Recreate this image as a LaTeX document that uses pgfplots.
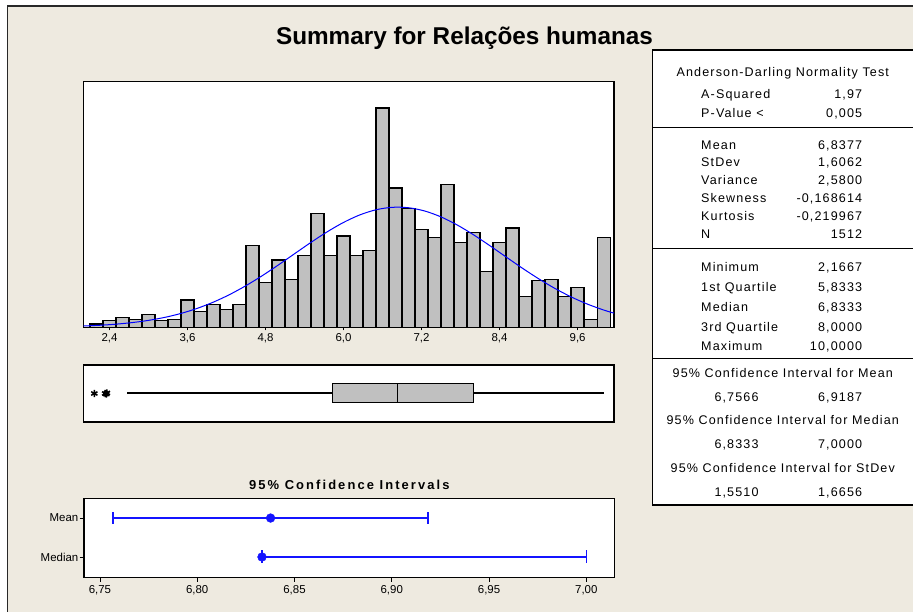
\documentclass[border=0pt]{standalone}
\usepackage{fontspec}
\setmainfont{Liberation Sans}
\usepackage{pgfplots}
\pgfplotsset{compat=1.18}
\usepgfplotslibrary{statistics}
\newfontfamily\tabfont[LetterSpace=9]{Liberation Sans}
\newfontfamily\titfont[LetterSpace=16]{Liberation Sans}
\definecolor{bgbeige}{RGB}{238,234,224}
\definecolor{bargray}{RGB}{192,192,192}
\definecolor{ciblue}{RGB}{20,20,255}
\definecolor{framegray}{RGB}{40,40,40}
\newcommand{\tabf}{\tabfont\fontsize{12.6}{14}\selectfont}
\newcommand{\trow}[3]{%
  \node[anchor=base west,inner sep=0pt,font=\tabf] at (701bp,#1bp) {#2};%
  \node[anchor=base east,inner sep=0pt,font=\tabf] at (862.3bp,#1bp) {#3};}
\newcommand{\crow}[3]{%
  \node[anchor=base west,inner sep=0pt,font=\tabf] at (714.3bp,#1bp) {#2};%
  \node[anchor=base east,inner sep=0pt,font=\tabf] at (862.3bp,#1bp) {#3};}
\newcommand{\hrow}[2]{%
  \node[anchor=base,inner sep=0pt,font=\tabf] at (782.8bp,#1bp) {#2};}

\begin{document}
\begin{tikzpicture}
\useasboundingbox (0,0) rectangle (913bp,612bp);
\fill[white] (0,0) rectangle (913bp,612bp);
\draw[line width=1.5bp, draw=framegray, fill=bgbeige] (7.3bp,-20bp) rectangle (940bp,606bp);

\node[anchor=base, inner sep=0pt, font=\bfseries\fontsize{24.4}{28}\selectfont] at (464.5bp,567.7bp) {Summary for Relações humanas};

% Histogram
\begin{axis}[
  at={(83.5bp,284.7bp)}, anchor=south west, scale only axis,
  width=530.5bp, height=245.6bp,
  xmin=2.0, xmax=10.16, ymin=0, ymax=153.5,
  axis line style={line width=1.2bp, black},
  axis background/.style={fill=white},
  ytick=\empty,
  xtick={2.4,3.6,4.8,6.0,7.2,8.4,9.6},
  xticklabels={{2,4},{3,6},{4,8},{6,0},{7,2},{8,4},{9,6}},
  tick align=outside, major tick length=3bp, xtick pos=bottom,
  tick style={black, line width=0.8bp},
  tick label style={font=\fontsize{11.5}{13}\selectfont},
]
\addplot[ybar, bar width=0.2, fill=bargray, draw=black, line width=1.2bp] coordinates {
(2.2,2) (2.4,4) (2.6,6) (2.8,5) (3.0,8) (3.2,4) (3.4,5) (3.6,17) (3.8,10) (4.0,14)
(4.2,11) (4.4,14) (4.6,51) (4.8,28) (5.0,42) (5.2,30) (5.4,45) (5.6,71) (5.8,45) (6.0,57)
(6.2,45) (6.4,48) (6.6,137) (6.8,87) (7.0,74) (7.2,61) (7.4,56) (7.6,89) (7.8,53) (8.0,59)
(8.2,35) (8.4,53) (8.6,62) (8.8,19) (9.0,29) (9.2,30) (9.4,19) (9.6,25) (9.8,5) (10.0,56)
};
\addplot[blue, line width=1bp, smooth] coordinates {
(2.0,0.81) (2.25,1.27) (2.5,1.96) (2.75,2.95) (3.0,4.33) (3.25,6.20) (3.5,8.67) (3.75,11.84)
(4.0,15.77) (4.25,20.51) (4.5,26.05) (4.75,32.27) (5.0,39.03) (5.25,46.08) (5.5,53.10)
(5.75,59.71) (6.0,65.55) (6.25,70.24) (6.5,73.46) (6.75,74.99) (7.0,74.72) (7.25,72.67)
(7.5,68.98) (7.75,63.91) (8.0,57.80) (8.25,51.02) (8.5,43.96) (8.75,36.97) (9.0,30.35)
(9.25,24.32) (9.5,19.01) (9.75,14.51) (10.0,10.81) (10.16,8.84)
};
\end{axis}

% Boxplot
\begin{axis}[
  at={(83.5bp,190bp)}, anchor=south west, scale only axis,
  width=530.5bp, height=57bp,
  xmin=2.0, xmax=10.16, ymin=0, ymax=2,
  axis line style={line width=1.2bp, black},
  axis background/.style={fill=white},
  xtick=\empty, ytick=\empty,
]
\addplot[boxplot prepared={lower whisker=2.6667, lower quartile=5.8333, median=6.8333,
  upper quartile=8.0, upper whisker=10.0, draw position=1.017, box extend=0.68,
  whisker extend=0, draw direction=x},
  fill=bargray, draw=black, line width=1.3bp] coordinates {};
\addplot[only marks, mark=asterisk, mark size=3.6bp, line width=1.5bp, black] coordinates {(2.1667,1) (2.3333,1) (2.36,1.02) (2.35,0.98)};
\end{axis}

% CI title
\node[anchor=base, inner sep=0pt, font=\titfont\bfseries\fontsize{13}{15}\selectfont] at (349.3bp,122.5bp) {95\% Confidence Intervals};

% CI plot
\begin{axis}[
  at={(84bp,34.7bp)}, anchor=south west, scale only axis,
  width=530.7bp, height=79bp,
  xmin=6.7418, xmax=7.0146, ymin=0.5, ymax=2.5,
  axis line style={line width=1.2bp, black},
  axis background/.style={fill=white},
  xtick={6.75,6.80,6.85,6.90,6.95,7.00},
  xticklabels={{6,75},{6,80},{6,85},{6,90},{6,95},{7,00}},
  ytick={1,2}, yticklabels={Median,Mean},
  tick align=outside, major tick length=4.5bp, xtick pos=bottom, ytick pos=left,
  tick style={black, line width=0.8bp},
  tick label style={font=\fontsize{11.5}{13}\selectfont},
  yticklabel style={inner xsep=1bp},
]
\addplot[ciblue, line width=1.5bp, mark=|, mark size=6bp] coordinates {(6.7566,2) (6.9187,2)};
\addplot[ciblue, line width=1.5bp, mark=|, mark size=6.5bp] coordinates {(6.8333,1.014) (7.0,1.014)};
\addplot[ciblue, only marks, mark=*, mark size=4.4bp] coordinates {(6.8377,2) (6.8333,1.014)};
\end{axis}

% Table
\draw[line width=1.3bp, fill=white] (652.7bp,107bp) rectangle (930bp,562bp);
\draw[line width=1.3bp] (652.7bp,484.7bp) -- (930bp,484.7bp);
\draw[line width=1.3bp] (652.7bp,363.5bp) -- (930bp,363.5bp);
\draw[line width=1.3bp] (652.7bp,253.5bp) -- (930bp,253.5bp);
\hrow{535.9}{Anderson-Darling Normality Test}
\trow{513.3}{A-Squared}{1,97}
\trow{494.3}{P-Value <}{0,005}
\trow{462.6}{Mean}{6,8377}
\trow{445.0}{StDev}{1,6062}
\trow{427.2}{Variance}{2,5800}
\trow{409.2}{Skewness}{-0,168614}
\trow{391.6}{Kurtosis}{-0,219967}
\trow{373.8}{N}{1512}
\trow{340.6}{Minimum}{2,1667}
\trow{320.6}{1st Quartile}{5,8333}
\trow{300.6}{Median}{6,8333}
\trow{280.6}{3rd Quartile}{8,0000}
\trow{261.1}{Maximum}{10,0000}
\hrow{234.9}{95\% Confidence Interval for Mean}
\crow{210.9}{6,7566}{6,9187}
\hrow{187.6}{95\% Confidence Interval for Median}
\crow{163.6}{6,8333}{7,0000}
\hrow{139.9}{95\% Confidence Interval for StDev}
\crow{115.9}{1,5510}{1,6656}
\end{tikzpicture}
\end{document}
